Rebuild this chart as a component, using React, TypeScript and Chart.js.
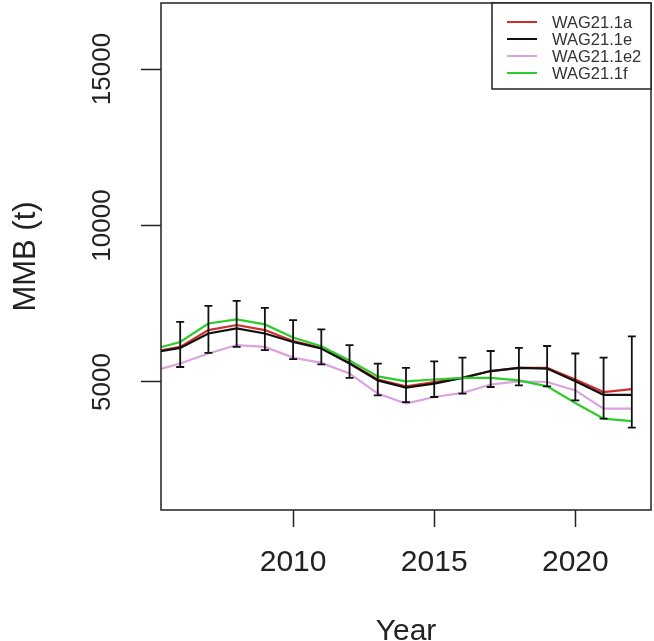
import React, { useEffect, useRef } from "react";
import { Chart, registerables } from "chart.js";

Chart.register(...registerables);

const years = [2005, 2006, 2007, 2008, 2009, 2010, 2011, 2012, 2013, 2014, 2015, 2016, 2017, 2018, 2019, 2020, 2021, 2022];
const seriesLabels = ["WAG21.1a", "WAG21.1e", "WAG21.1e2", "WAG21.1f"];
const wag21_1a = [5960, 6120, 6660, 6820, 6660, 6310, 6090, 5610, 5080, 4860, 5000, 5130, 5350, 5450, 5450, 5080, 4680, 4770];
const wag21_1e = [5940, 6090, 6550, 6710, 6550, 6280, 6070, 5590, 5050, 4820, 4950, 5130, 5350, 5450, 5430, 5020, 4590, 4590];
const wag21_1e2 = [5340, 5590, 5910, 6180, 6120, 5780, 5610, 5270, 4630, 4310, 4520, 4650, 4920, 5020, 5000, 4730, 4150, 4150];
const wag21_1f = [6040, 6280, 6870, 7000, 6840, 6420, 6140, 5690, 5180, 5020, 5080, 5130, 5130, 5050, 4860, 4330, 3830, 3750];
const ciUpper = [null, 6920, 7430, 7590, 7370, 6980, 6680, 6180, 5590, 5450, 5660, 5780, 5990, 6090, 6150, 5910, 5780, 6460];
const ciLower = [null, 5480, 5930, 6120, 6020, 5730, 5560, 5130, 4570, 4360, 4520, 4630, 4840, 4890, 4860, 4410, 3830, 3540];
const xTickValues = [2010, 2015, 2020];
const yTickValues = [5000, 10000, 15000];
const seriesColors = ["#d42c2c", "#111111", "#dba2e0", "#2ccc2c"];

const FONT = '"Liberation Sans", Arial, Helvetica, sans-serif';

export default function App() {
  const ref = useRef<HTMLCanvasElement>(null);

  useEffect(() => {
    if (!ref.current) return;
    const series = [wag21_1a, wag21_1e, wag21_1e2, wag21_1f];
    const datasets = series.map((s, i) => ({
      label: seriesLabels[i],
      data: years.map((yr, j) => ({ x: yr, y: s[j] })),
      borderColor: seriesColors[i],
      backgroundColor: seriesColors[i],
      borderWidth: 2.2,
      pointRadius: 0,
      pointHoverRadius: 0,
      tension: 0,
      fill: false,
      order: 4 - i,
    }));

    const custom = {
      id: "custom",
      afterDatasetsDraw(chart: any) {
        const { ctx } = chart;
        const x = chart.scales.x;
        const y = chart.scales.y;
        ctx.save();
        ctx.strokeStyle = "#111111";
        ctx.lineWidth = 1.8;
        years.forEach((yr, i) => {
          const up = ciUpper[i];
          const lo = ciLower[i];
          if (up == null || lo == null) return;
          const px = x.getPixelForValue(yr);
          const pu = y.getPixelForValue(up);
          const pl = y.getPixelForValue(lo);
          ctx.beginPath();
          ctx.moveTo(px, pu);
          ctx.lineTo(px, pl);
          ctx.moveTo(px - 4, pu);
          ctx.lineTo(px + 4, pu);
          ctx.moveTo(px - 4, pl);
          ctx.lineTo(px + 4, pl);
          ctx.stroke();
        });
        ctx.restore();
      },
      afterDraw(chart: any) {
        const { ctx, chartArea: a } = chart;
        const y = chart.scales.y;
        ctx.save();
        // plot box
        ctx.strokeStyle = "#222222";
        ctx.lineWidth = 1.5;
        ctx.strokeRect(a.left, a.top, a.right - a.left, a.bottom - a.top);
        // y tick labels (rotated, R style)
        ctx.fillStyle = "#222222";
        ctx.font = `26px ${FONT}`;
        ctx.textAlign = "center";
        ctx.textBaseline = "middle";
        y.ticks.forEach((t: any) => {
          const py = y.getPixelForValue(t.value);
          ctx.save();
          ctx.translate(a.left - 58, py);
          ctx.rotate(-Math.PI / 2);
          ctx.fillText(String(t.value), 0, 0);
          ctx.restore();
        });
        // legend
        const lx = a.right - 159;
        const ly = a.top;
        ctx.fillStyle = "#ffffff";
        ctx.fillRect(lx, ly, a.right - lx, 86);
        ctx.strokeStyle = "#222222";
        ctx.lineWidth = 1.5;
        ctx.strokeRect(lx, ly, a.right - lx, 86);
        ctx.font = `16.5px ${FONT}`;
        ctx.textAlign = "left";
        ctx.textBaseline = "middle";
        chart.data.datasets.forEach((ds: any, i: number) => {
          const ry = ly + 19 + i * 17;
          ctx.strokeStyle = ds.borderColor;
          ctx.lineWidth = 2;
          ctx.beginPath();
          ctx.moveTo(lx + 15, ry);
          ctx.lineTo(lx + 45, ry);
          ctx.stroke();
          ctx.fillStyle = "#333333";
          ctx.fillText(ds.label, lx + 60, ry + 1);
        });
        ctx.restore();
      },
    };

    const chart = new Chart(ref.current, {
      type: "line",
      data: { datasets },
      options: {
        animation: false,
        responsive: false,
        devicePixelRatio: 1,
        events: [],
        layout: { padding: { top: 3, right: 3, left: 0, bottom: 0 } },
        plugins: { legend: { display: false }, tooltip: { enabled: false } },
        scales: {
          x: {
            type: "linear",
            min: 2005.32,
            max: 2022.68,
            afterBuildTicks: (s: any) => {
              s.ticks = xTickValues.map((v) => ({ value: v }));
            },
            afterFit: (s: any) => {
              s.height = 131;
            },
            grid: { drawOnChartArea: false, drawTicks: true, tickLength: 17, tickColor: "#222222", tickWidth: 1.5 },
            border: { display: false },
            ticks: {
              padding: 18,
              color: "#222222",
              font: { size: 30, family: FONT, lineHeight: 1.2 },
              maxRotation: 0,
              minRotation: 0,
              autoSkip: false,
              callback: (v: any) => String(v),
            },
            title: {
              display: true,
              text: "Year",
              color: "#222222",
              font: { size: 30, family: FONT, lineHeight: 0.6 },
              padding: 0,
            },
          },
          y: {
            type: "linear",
            min: 910,
            max: 17110,
            afterBuildTicks: (s: any) => {
              s.ticks = yTickValues.map((v) => ({ value: v }));
            },
            afterFit: (s: any) => {
              s.width = 161;
            },
            grid: { drawOnChartArea: false, drawTicks: true, tickLength: 20, tickColor: "#222222", tickWidth: 1.5 },
            border: { display: false },
            ticks: { display: false },
            title: {
              display: true,
              text: "MMB (t)",
              color: "#222222",
              font: { size: 31, family: FONT, lineHeight: 1.2 },
              padding: { top: 8, bottom: 0 },
            },
          },
        },
      },
      plugins: [custom],
    } as any);

    return () => chart.destroy();
  }, []);

  return (
    <div style={{ position: "fixed", left: 0, top: 0, width: 654, height: 641, background: "#ffffff" }}>
      <canvas ref={ref} width={654} height={641} style={{ display: "block" }} />
    </div>
  );
}
